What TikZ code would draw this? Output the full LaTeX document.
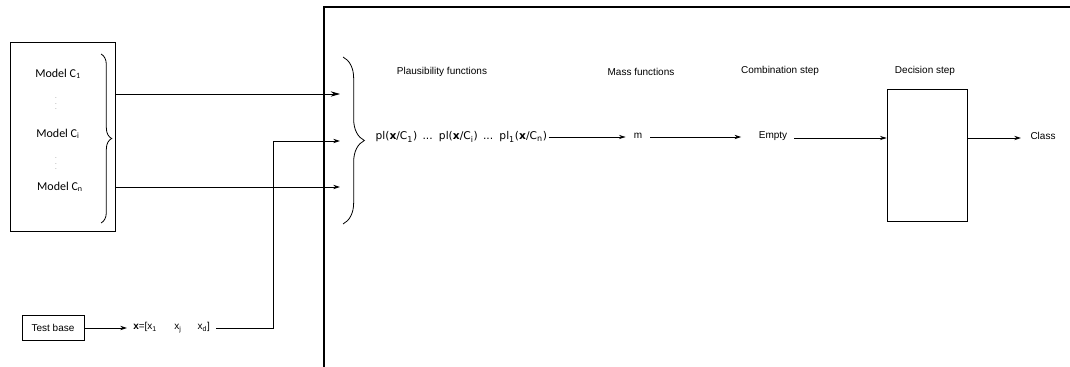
\documentclass[tikz,border=0pt]{standalone}
\usepackage{fontspec}
\setmainfont{Liberation Sans}
\newfontfamily\calfont{Carlito}
\newfontfamily\dvfont{DejaVu Sans}
\usetikzlibrary{positioning, arrows.meta, decorations.pathreplacing}
\tikzset{
    x=0.75pt, y=-0.75pt, % one unit = one pixel of the reference
    every node/.style={
        font=\fontsize{7.5}{9}\selectfont,
        inner sep=1pt
    },
    box/.style={ % rectangles
        draw,
        semithick
    },
    arr/.style={ % small arrows
        -{Stealth[length=5pt,width=3.2pt]},
        semithick
    },
    bigarr/.style={ % arrows out of the model box
        -{Stealth[length=7pt,width=4pt]},
        semithick
    },
    brc/.style={
        decorate,
        semithick
    },
    frame/.style={line width=1.3pt},
    vdot/.style={font=\fontsize{3.5}{4}\selectfont},
}

\begin{document}
\begin{tikzpicture}
            \useasboundingbox (0,0) rectangle (1070,367);
            \draw[frame] (324,367) -- (324,7) -- (1070,7);

            \node[box, anchor=north west, minimum width=78.75pt, minimum height=141.75pt]
                                        (models)    at (10,42)      {};
            \node[font=\calfont\fontsize{9}{10}\selectfont]
                                        (mc1)       at (58,74)      {Model C\textsubscript{1}};
            \node[vdot]                 (dots1)     at (56,100)     {$\vdots$};
            \node[font=\calfont\fontsize{9}{10}\selectfont]
                                        (mci)       at (58,134)     {Model C\textsubscript{i}};
            \node[vdot]                 (dots2)     at (56,160)     {$\vdots$};
            \node[font=\calfont\fontsize{9}{10}\selectfont]
                                        (mcn)       at (60,187)     {Model C\textsubscript{n}};
            \draw[brc, decoration={brace, amplitude=8pt}] (101,54) -- (101,223);

            \node[box, minimum width=46.5pt, minimum height=18.75pt]
                                        (tb)        at (53,328)     {Test base};
            \node[inner xsep=4.5pt, anchor=west]
                                        (xvec)      at (127,328)
                {\textbf{x}=[x\textsubscript{1}\hspace{13pt}x\textsubscript{j}\hspace{12pt}x\textsubscript{d}]};
            \coordinate                 (turn)      at (273,328);

            \coordinate                 (in1)       at (340,94);
            \coordinate                 (in2)       at (340,141);
            \coordinate                 (in3)       at (340,187);
            \draw[brc, decoration={brace, amplitude=16pt}] (343,57) -- (343,224);

            \node                       (plaus)     at (442,72)     {Plausibility functions};
            \node                       (massf)     at (641,72)     {Mass functions};
            \node                       (combs)     at (780,71)     {Combination step};
            \node                       (decs)      at (925,71)     {Decision step};

            \node[font=\dvfont\fontsize{8}{9}\selectfont, anchor=west]
                                        (pl)        at (374,137)
                {pl(\textbf{x}/C\textsubscript{1})\, ...\, pl(\textbf{x}/C\textsubscript{i})\, ...\, pl\textsubscript{1}(\textbf{x}/C\textsubscript{n})};
            \node[inner xsep=6pt]       (m)         at (638,136)    {m};
            \node[inner xsep=5pt]       (empty)     at (773,136)    {Empty};
            \node[box, minimum width=60pt, minimum height=99pt]
                                        (dec)       at (927,155)    {};
            \node[inner xsep=7pt]       (class)     at (1043,136)   {Class};

            \draw[bigarr]   (models.east |- in1)    --  (in1);
            \draw[arr]      (models.east |- in3)    --  (in3);
            \draw[arr]      (tb)                    --  (xvec);
            \draw[arr]      (xvec)                  --  (turn)  |-  (in2);
            \draw[arr]      (pl.east)               --  (m.west |- pl.east);
            \draw[arr]      (m.east |- 0,137)       --  ([xshift=-8pt]empty.west |- 0,137);
            \draw[arr]      (empty.east |- 0,138)   --  (dec.west |- 0,138);
            \draw[arr]      (dec.east |- 0,138)     --  (class.west |- 0,138);
\end{tikzpicture}
\end{document}
